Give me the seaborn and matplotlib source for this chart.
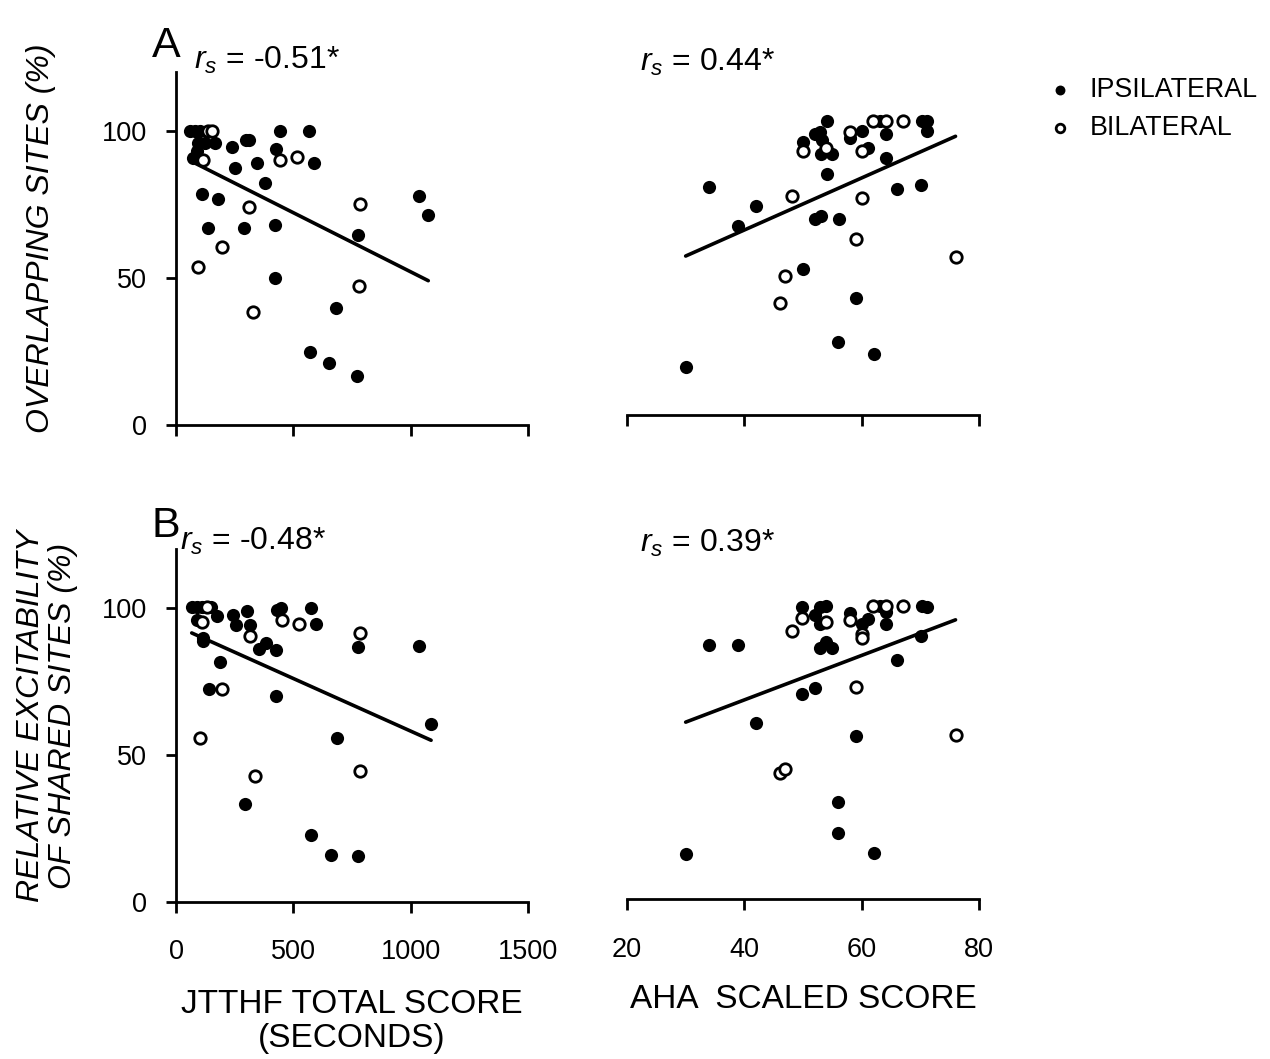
import numpy as np
import pandas as pd
import matplotlib
matplotlib.use("Agg")
import matplotlib.pyplot as plt
import seaborn as sns

# ---------------- data ----------------
# Panel A, JTTHF (s) vs overlapping sites (%)
a_jt_ipsi_x = [60, 81, 102, 94, 123, 166, 237, 300, 312, 442, 567, 425, 587, 88, 85, 73, 251, 346, 378,
               109, 180, 137, 289, 421, 775, 1037, 1075, 421, 683, 572, 654, 771]
a_jt_ipsi_y = [100, 100, 100, 96, 96, 96, 94.4, 97, 97, 100, 100, 93.8, 89, 93, 91.3, 90.7, 87.3, 89, 82.2,
               78.6, 76.9, 66.9, 66.9, 68, 64.6, 77.9, 71.4, 49.9, 39.9, 24.9, 21, 16.7]
a_jt_bi_x = [136, 153, 442, 517, 113, 312, 194, 786, 95, 779, 329]
a_jt_bi_y = [100, 100, 90, 91, 90, 74, 60.6, 75, 53.8, 47.3, 38.5]

# Panel A, AHA scaled score vs overlapping sites (%)
a_aha_ipsi_x = [34, 39, 42, 50, 52, 52.9, 53.2, 54.1, 53, 55, 54.1, 52, 53, 56.1, 58, 60.1, 61.1, 63.1,
                70.2, 71.1, 71.1, 64.1, 64.1, 66.1, 70.1, 50, 59, 56, 62.1, 30]
a_aha_ipsi_y = [77.4, 64.3, 71.1, 92.8, 95.6, 96.2, 93.5, 99.8, 88.8, 88.8, 82, 66.6, 67.7, 66.6, 94.1, 96.6,
                90.7, 99.8, 99.8, 99.8, 96.4, 95.5, 87.3, 76.8, 78.2, 49.7, 39.7, 24.7, 20.7, 16.4]
a_aha_bi_x = [48.1, 50, 54, 58, 60.1, 62, 64.2, 67.1, 60.1, 59, 76, 47, 46.1]
a_aha_bi_y = [74.6, 89.9, 90.7, 96.2, 89.9, 99.8, 99.8, 99.8, 73.9, 59.8, 53.6, 47.4, 38.2]

# Panel B, JTTHF (s) vs relative excitability (%)
b_jt_ipsi_x = [67, 88, 110, 150, 88, 176, 244, 303, 255, 317, 431, 449, 574, 595, 116, 116, 353, 385, 428,
               187, 142, 428, 775, 1037, 687, 1087, 295, 577, 662, 775]
b_jt_ipsi_y = [100.2, 100.2, 100.2, 100.2, 95.7, 97, 97.4, 98.8, 94, 94.2, 99.3, 100, 100, 94.3, 89.5, 88.5,
               85.8, 87.8, 85.5, 81.5, 72.2, 70, 86.6, 86.9, 55.5, 60.4, 33.2, 22.7, 15.9, 15.5]
b_jt_bi_x = [130, 109, 317, 450, 524, 198, 782, 102, 336, 782]
b_jt_bi_y = [100.2, 95.1, 90.4, 95.7, 94.3, 72.2, 91.4, 55.8, 42.8, 44.4]

# Panel B, AHA scaled score vs relative excitability (%)
b_aha_ipsi_x = [34, 39, 42, 49.9, 52, 52.9, 54, 52.9, 52.9, 54, 55, 49.9, 52, 58, 60.1, 61.1, 63.1, 64.1,
                64.1, 70.2, 71.1, 70.1, 66.1, 59, 56, 56, 62.1, 30]
b_aha_ipsi_y = [86.4, 86.4, 60.1, 99.4, 96.8, 99.2, 99.7, 93.7, 85.3, 87.5, 85.5, 69.7, 71.9, 97.4, 93.7,
                95.4, 99.7, 97.7, 93.5, 99.7, 99.4, 89.5, 81.3, 55.6, 33.2, 22.6, 15.6, 15.4]
b_aha_bi_x = [48.1, 49.9, 54, 59, 58, 60.1, 60.1, 62, 64.2, 67.1, 76, 46.1, 47]
b_aha_bi_y = [91.1, 95.7, 94.1, 72.2, 95.1, 90.3, 88.9, 99.7, 99.7, 99.7, 55.8, 42.8, 44.2]

rs_labels = ["-0.51*", "0.44*", "-0.48*", "0.39*"]
group_names = ["IPSILATERAL", "BILATERAL"]
jt_ticks = [0, 500, 1000, 1500]
aha_ticks = [20, 40, 60, 80]
y_ticks = [0, 50, 100]

# ---------------- style ----------------
sns.set_theme(style="ticks")
plt.rcParams["font.family"] = ["Liberation Sans", "DejaVu Sans"]
plt.rcParams["mathtext.fontset"] = "custom"
plt.rcParams["mathtext.it"] = "Liberation Sans:italic"
plt.rcParams["mathtext.rm"] = "Liberation Sans"
plt.rcParams["axes.linewidth"] = 2.0
plt.rcParams["text.color"] = "black"
plt.rcParams["xtick.color"] = "black"
plt.rcParams["ytick.color"] = "black"
plt.rcParams["xtick.labelcolor"] = "black"
plt.rcParams["ytick.labelcolor"] = "black"
plt.rcParams["axes.edgecolor"] = "black"
plt.rcParams["axes.labelcolor"] = "black"

W, H = 1270, 1059
fig = plt.figure(figsize=(W / 100, H / 100), dpi=100)


def rect(left_px, bottom_px, w_px=352, h_px=353):
    return [left_px / W, 1 - bottom_px / H, w_px / W, h_px / H]


axA1 = fig.add_axes(rect(176, 425))
axA2 = fig.add_axes(rect(627, 415))
axB1 = fig.add_axes(rect(176, 901.7))
axB2 = fig.add_axes(rect(627, 899.3))

panels = [
    (axA1, a_jt_ipsi_x, a_jt_ipsi_y, a_jt_bi_x, a_jt_bi_y, "jt"),
    (axA2, a_aha_ipsi_x, a_aha_ipsi_y, a_aha_bi_x, a_aha_bi_y, "aha"),
    (axB1, b_jt_ipsi_x, b_jt_ipsi_y, b_jt_bi_x, b_jt_bi_y, "jt"),
    (axB2, b_aha_ipsi_x, b_aha_ipsi_y, b_aha_bi_x, b_aha_bi_y, "aha"),
]

for ax, xi, yi, xb, yb, kind in panels:
    all_x = np.array(xi + xb, dtype=float)
    all_y = np.array(yi + yb, dtype=float)
    sns.regplot(x=all_x, y=all_y, ax=ax, scatter=False, ci=None, truncate=True,
                line_kws=dict(color="black", lw=2.6))
    sns.scatterplot(x=xi, y=yi, ax=ax, color="black", s=90, linewidth=0,
                    label=group_names[0], legend=False, zorder=3)
    sns.scatterplot(x=xb, y=yb, ax=ax, color="white", edgecolor="black", s=68, linewidth=2.0,
                    label=group_names[1], legend=False, zorder=4)
    ax.set_ylim(0, 120)
    if kind == "jt":
        ax.set_xlim(0, 1500)
        ax.set_xticks(jt_ticks)
        ax.set_yticks(y_ticks)
        ax.tick_params(axis="y", length=7, width=2.0, labelsize=19.5, pad=14, direction="out")
        ax.spines["left"].set_bounds(0, 120)
    else:
        ax.set_xlim(20, 80)
        ax.set_xticks(aha_ticks)
        ax.set_yticks([])
        ax.spines["left"].set_visible(False)
    ax.tick_params(axis="x", length=8, width=2.0, labelsize=19.5, pad=19, direction="out")
    ax.spines["top"].set_visible(False)
    ax.spines["right"].set_visible(False)
    ax.set_xlabel("")
    ax.set_ylabel("")
    ax.set_facecolor("none")

for ax in (axA1, axA2):
    ax.set_xticklabels([])

axB1.set_xlabel("JTTHF TOTAL SCORE\n(SECONDS)", fontsize=24, labelpad=17, linespacing=1.12)
axB2.set_xlabel("AHA  SCALED SCORE", fontsize=24, labelpad=15)

# y labels
fig.text(41 / W, 1 - 238 / H, "OVERLAPPING SITES (%)", rotation=90, fontsize=23, style="italic",
         ha="center", va="center")
fig.text(47 / W, 1 - 716 / H, "RELATIVE EXCITABILITY\nOF SHARED SITES (%)", rotation=90, fontsize=23,
         style="italic", ha="center", va="center", multialignment="center", linespacing=1.05)

# panel letters
fig.text(166 / W, 1 - 46 / H, "A", fontsize=31, ha="center", va="center")
fig.text(166 / W, 1 - 526 / H, "B", fontsize=31, ha="center", va="center")

# correlation annotations
rs_pos = [(194, 60), (640, 62), (180, 541), (640, 543)]
for (px, py), lab in zip(rs_pos, rs_labels):
    fig.text(px / W, 1 - py / H, r"$r_s$ = " + lab, fontsize=23, ha="left", va="center")

# legend
handles, labels = axA1.get_legend_handles_labels()
leg = fig.legend(handles, labels, loc="upper left", bbox_to_anchor=(1028 / W, 1 - 66 / H),
                 frameon=False, fontsize=19.3, markerscale=0.75, handletextpad=0.3,
                 handlelength=1.6, labelspacing=0.45, borderaxespad=0)

fig.savefig("out.png", dpi=100, facecolor="white")
